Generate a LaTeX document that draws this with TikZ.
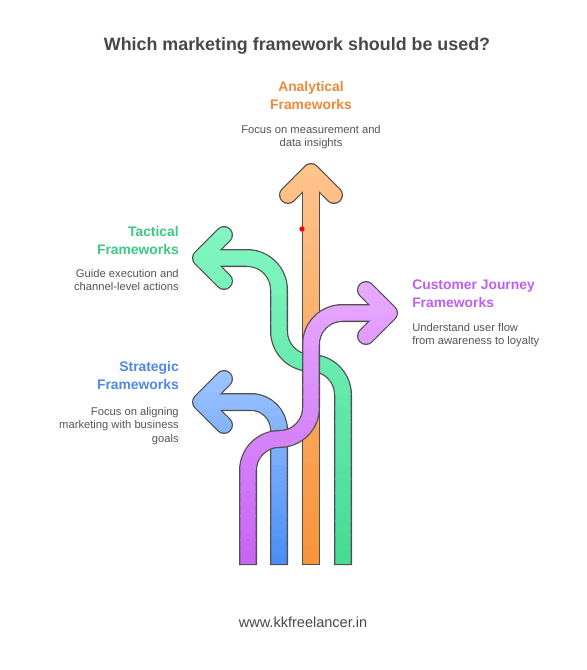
\documentclass[tikz,border=0pt]{standalone}
\usepackage{fontspec}
\setmainfont{Liberation Sans}

\definecolor{titlegray}{HTML}{484848}
\definecolor{textgray}{HTML}{555555}
\definecolor{rimgray}{HTML}{505050}
\definecolor{anaorange}{HTML}{EB8A3C}
\definecolor{tacgreen}{HTML}{3CC886}
\definecolor{strblue}{HTML}{4D88EA}
\definecolor{cuspurple}{HTML}{BF5EF0}
% arrow gradients
\definecolor{anatop}{HTML}{FFC38C}
\definecolor{anabot}{HTML}{F7953A}
\definecolor{tactop}{HTML}{82F6C2}
\definecolor{tacbot}{HTML}{46DC94}
\definecolor{strtop}{HTML}{9EC4FF}
\definecolor{strbot}{HTML}{4A8EF8}
\definecolor{custop}{HTML}{E8AAFF}
\definecolor{cusbot}{HTML}{C865F5}

\tikzset{
  rim/.style={draw=rimgray, line width=13.5pt, line join=round},
  body/.style={line width=11.6pt, line join=round},
  heading/.style={font=\fontsize{10.4}{13.5}\selectfont\bfseries, inner sep=0pt},
  blurb/.style={font=\fontsize{8.4}{10.2}\selectfont, text=textgray, inner sep=0pt}
}

% #1 top colour, #2 bottom colour, #3 top y, #4 bottom y, #5 shaft, #6 head
\newcommand{\fwarrow}[6]{%
  \draw[rim, line cap=butt] #5;
  \draw[rim, line cap=round] #6;
  \foreach \i in {0,...,23}{
    \pgfmathsetmacro{\ya}{#3+(#4-#3)*\i/24}
    \pgfmathsetmacro{\yb}{#3+(#4-#3)*(\i+1)/24+0.6}
    \pgfmathtruncatemacro{\p}{100*\i/23}
    \colorlet{band}{#2!\p!#1}
    \begin{scope}
      \clip (0,\ya) rectangle (586,\yb);
      \draw[body, draw=band, line cap=butt] #5;
      \draw[body, draw=band, line cap=round] #6;
    \end{scope}
  }%
}

\begin{document}
\begin{tikzpicture}[x=0.75pt, y=-0.75pt]
  \fill[white] (0,0) rectangle (586,670);
  \useasboundingbox (0,0) rectangle (586,670);

  % arrows, back to front
  \fwarrow{anatop}{anabot}{160}{563.2}
    {(311,565) -- (311,172)}
    {(288,195) -- (311,172) -- (334,195)}
  \fwarrow{tactop}{tacbot}{224}{563.2}
    {[rounded corners=24pt] (343,565) -- (343,363) -- (279,363) -- (279,258) -- (201,258)}
    {(224,235) -- (201,258) -- (224,281)}
  \fwarrow{strtop}{strbot}{368}{563.2}
    {[rounded corners=21pt] (279,565) -- (279,402) -- (201,402)}
    {(224,379) -- (201,402) -- (224,425)}
  \fwarrow{custop}{cusbot}{278}{563.2}
    {[rounded corners=23.6pt] (248,565) -- (248,439) -- (311,439) -- (311,313) -- (389,313)}
    {(366,290) -- (389,313) -- (366,336)}

  \fill[red] (302,229) circle (2pt);

  % texts
  \node[font=\fontsize{13.4}{16}\selectfont\bfseries, text=titlegray, anchor=base] (title) at (297,51)
    {Which marketing framework should be used?};

  \node[heading, text=anaorange, align=center, anchor=north] (ana) at (311,81)
    {Analytical\\Frameworks};
  \node[blurb, align=center, anchor=north] (anadesc) at (311,125)
    {Focus on measurement and\\data insights};

  \node[heading, text=tacgreen, align=right, anchor=north east] (tac) at (179,226)
    {Tactical\\Frameworks};
  \node[blurb, align=right, anchor=north east] (tacdesc) at (179,269)
    {Guide execution and\\channel-level actions};

  \node[heading, text=strblue, align=right, anchor=north east] (str) at (179,361)
    {Strategic\\Frameworks};
  \node[blurb, align=right, anchor=north east] (strdesc) at (179,407)
    {Focus on aligning\\marketing with business\\goals};

  \node[heading, text=cuspurple, align=left, anchor=north west] (cus) at (412,280)
    {Customer Journey\\Frameworks};
  \node[blurb, align=left, anchor=north west] (cusdesc) at (412,323)
    {Understand user flow\\from awareness to loyalty};

  \node[font=\fontsize{10.9}{13}\selectfont, text=titlegray, anchor=base] (site) at (303,627)
    {www.kkfreelancer.in};
\end{tikzpicture}
\end{document}
